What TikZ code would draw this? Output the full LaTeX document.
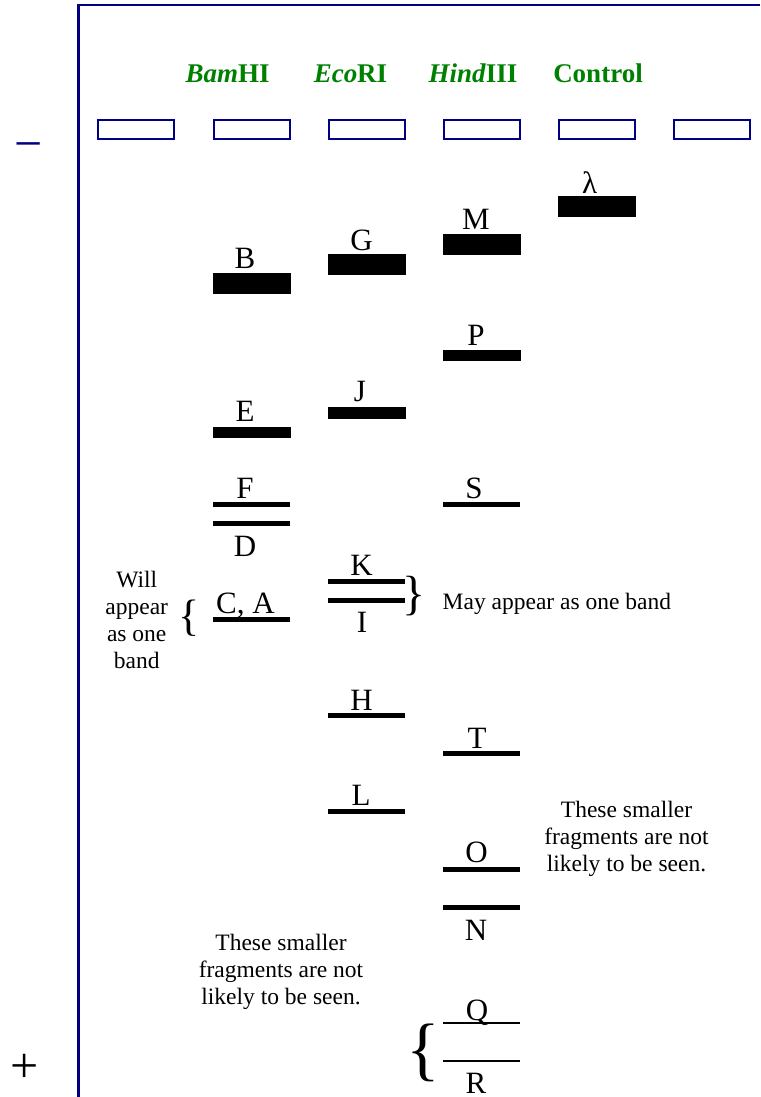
\documentclass[tikz,border=0pt]{standalone}
\usepackage{fontspec}
\setmainfont{Liberation Serif}
\definecolor{gelnavy}{RGB}{0,0,128}
\definecolor{dyegreen}{RGB}{0,128,0}
\newcommand\fsz[2]{\fontsize{#1}{#2}\selectfont}

\begin{document}
\begin{tikzpicture}[x=1pt,y=-1pt,
  well/.style={draw=gelnavy, line width=2pt, minimum width=76pt, minimum height=18.7pt, inner sep=0pt, outer sep=0pt},
  band/.style={fill=black, draw=none, inner sep=0pt, outer sep=0pt},
  wideband/.style={band, minimum width=78pt, minimum height=21pt},
  midband/.style={band, minimum width=78pt, minimum height=11.5pt},
  thinband/.style={band, minimum width=77pt, minimum height=5pt},
  hairband/.style={band, minimum width=77pt, minimum height=2.5pt},
  lbl/.style={anchor=base, inner sep=0pt, font=\fsz{31}{31}},
  hdr/.style={anchor=base, inner sep=0pt, text=dyegreen, font=\bfseries\fsz{27}{27}},
  note/.style={align=center, anchor=north, inner sep=0pt, font=\fsz{23.5}{27}},
  pole/.style={anchor=base, inner sep=0pt, font=\fsz{50}{50}},
  bracket/.style={inner sep=0pt, outer sep=0pt}
]
\useasboundingbox (0,0) rectangle (760,1097);

% gel outline
\coordinate (gelTR) at (760,5);
\coordinate (gelTL) at (78.7,5);
\coordinate (gelBL) at (78.7,1097);
\draw[gelnavy, line width=2.5pt] (gelTR) -- (gelTL) -- (gelBL);

% electrodes
\node[pole, text=gelnavy] (cathode) at (28.3,160.5) {−};
\node[pole] (anode) at (24.5,1082) {+};

% lane headings
\node[hdr] (hBam) at (227.7,82.5) {\textit{Bam}HI};
\node[hdr] (hEco) at (350.5,82.5) {\textit{Eco}RI};
\node[hdr] (hHind) at (473,82.5) {\textit{Hind}III};
\node[hdr] (hCtrl) at (598,82.5) {Control};

% wells
\node[well] (w1) at (136.3,129.7) {};
\node[well] (w2) at (251.6,129.7) {};
\node[well] (w3) at (366.7,129.7) {};
\node[well] (w4) at (481.9,129.7) {};
\node[well] (w5) at (597.2,129.7) {};
\node[well] (w6) at (712.3,129.7) {};

% control lane
\node[wideband] (bLambda) at (597.2,206.5) {};
\node[lbl] (lLambda) at (589.7,193) {λ};

% BamHI lane
\node[wideband] (bB) at (251.6,283.5) {};
\node[lbl] (lB) at (245,268.3) {B};
\node[midband] (bE) at (251.6,432.3) {};
\node[lbl] (lE) at (245,421.7) {E};
\node[thinband] (bF) at (251.6,504) {};
\node[lbl] (lF) at (245,498.3) {F};
\node[thinband] (bD) at (251.6,523.3) {};
\node[lbl] (lD) at (245,556) {D};
\node[thinband] (bCA) at (251.6,619.3) {};
\node[lbl] (lCA) at (245.5,613) {C, A};

% EcoRI lane
\node[wideband] (bG) at (366.7,264.2) {};
\node[lbl] (lG) at (361.5,250) {G};
\node[midband] (bJ) at (366.7,413) {};
\node[lbl] (lJ) at (360,401.7) {J};
\node[thinband] (bK) at (366.7,581) {};
\node[lbl] (lK) at (361.5,575) {K};
\node[thinband] (bI) at (366.7,600.3) {};
\node[lbl] (lI) at (362,632) {I};
\node[thinband] (bH) at (366.7,715) {};
\node[lbl] (lH) at (361.5,710.7) {H};
\node[thinband] (bL) at (366.7,811.2) {};
\node[lbl] (lL) at (361,805.3) {L};

% HindIII lane
\node[wideband] (bM) at (481.9,244.8) {};
\node[lbl] (lM) at (476,229.3) {M};
\node[midband] (bP) at (481.9,355.5) {};
\node[lbl] (lP) at (476,345.7) {P};
\node[thinband] (bS) at (481.9,504) {};
\node[lbl] (lS) at (474,498.5) {S};
\node[thinband] (bT) at (481.9,753.8) {};
\node[lbl] (lT) at (477,748.3) {T};
\node[thinband] (bO) at (481.9,869) {};
\node[lbl] (lO) at (476.5,862.8) {O};
\node[thinband] (bN) at (481.9,907.3) {};
\node[lbl] (lN) at (476,940) {N};
\node[hairband] (bQ) at (481.9,1022.8) {};
\node[lbl] (lQ) at (477,1020) {Q};
\node[hairband] (bR) at (481.9,1061) {};
\node[lbl] (lR) at (476,1093) {R};

% brackets and notes
\node[bracket, font=\fsz{44}{44}] (brCA) at (188.8,617.8) {\{};
\node[note] (nWill) at (136.7,571) {Will\\appear\\as one\\band};
\node[bracket, font=\fsz{48}{48}] (brKI) at (414.2,595.8) {\}};
\node[anchor=base west, inner sep=0pt, font=\fsz{23.5}{27}] (nMay) at (442.5,609.3) {May appear as one band};
\node[note] (nRight) at (626.5,800.7) {These smaller\\fragments are not\\likely to be seen.};
\node[note] (nLeft) at (281,934) {These smaller\\fragments are not\\likely to be seen.};
\node[bracket, font=\fsz{70}{70}] (brQR) at (423.6,1053) {\{};
\end{tikzpicture}
\end{document}
